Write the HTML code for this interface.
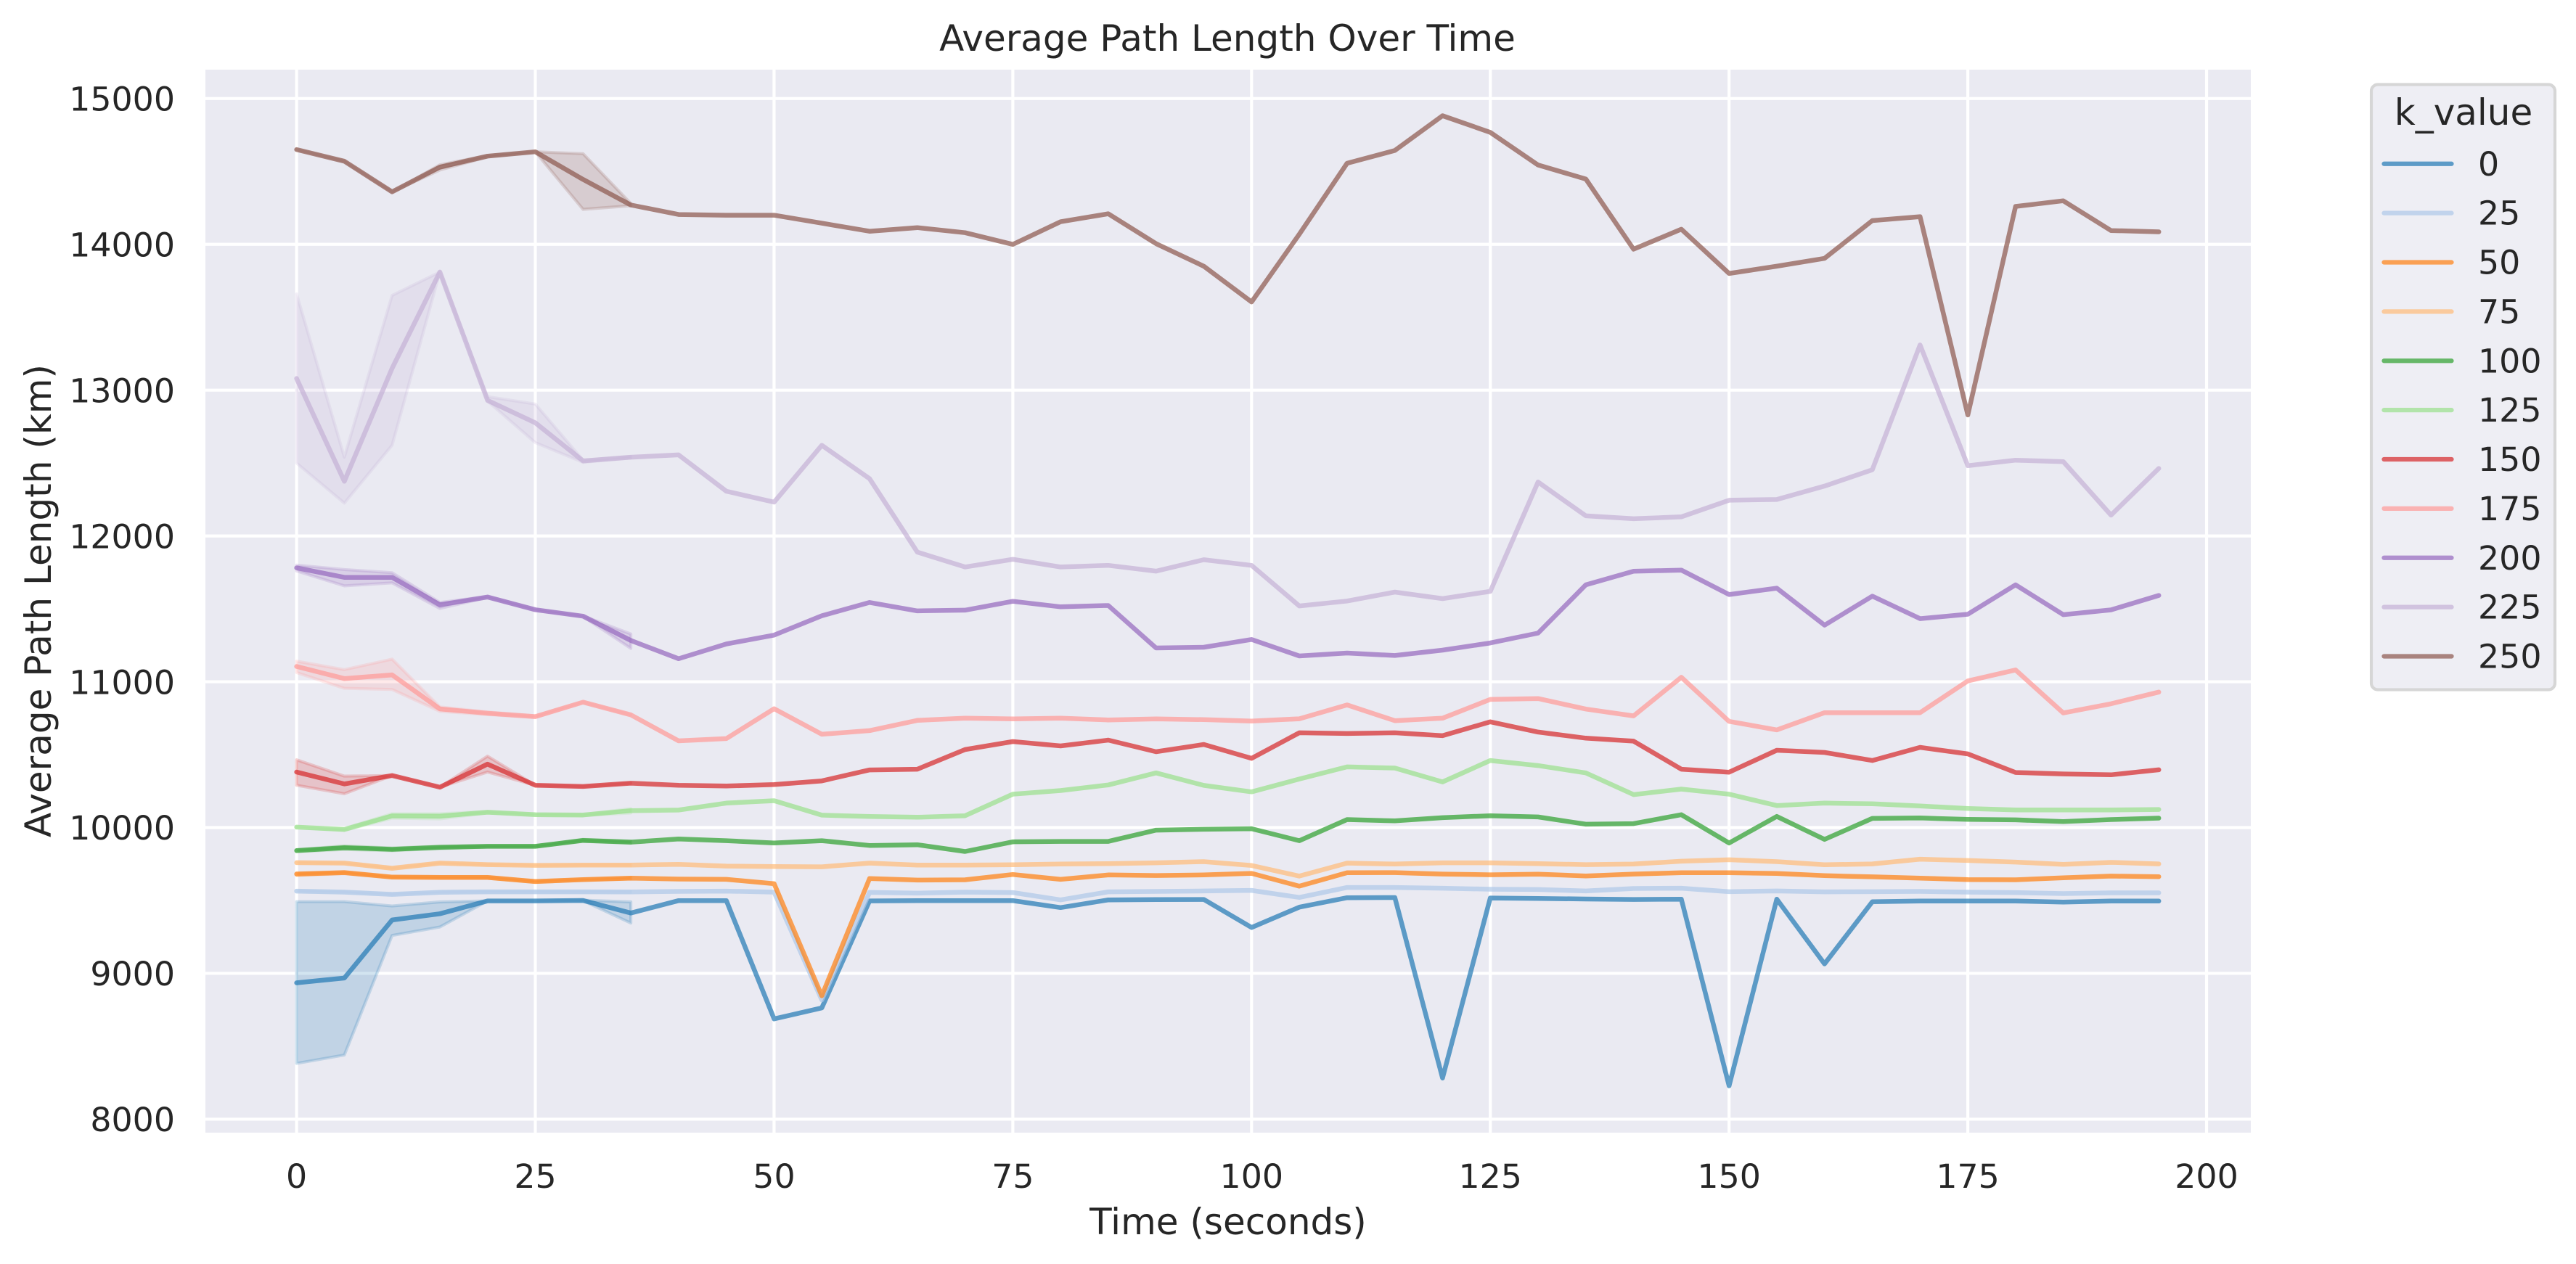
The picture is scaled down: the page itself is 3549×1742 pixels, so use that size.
<!DOCTYPE html>
<html lang="en">
<head>
<meta charset="utf-8">
<title>Average Path Length Over Time</title>
<style>
html,body{margin:0;padding:0;background:#fff}
svg{display:block}
text{font-family:"DejaVu Sans","Liberation Sans",sans-serif;fill:#262626}
</style>
</head>
<body>
<svg id="chart" xmlns="http://www.w3.org/2000/svg" width="3549" height="1742" viewBox="0 0 3549 1742">
  <rect x="0" y="0" width="3549" height="1742" fill="#ffffff"/>
  <rect x="283" y="96" width="2818" height="1465" fill="#eaeaf2"/>
  <g id="grid"></g>
  <g id="bands"></g>
  <g id="lines"></g>
  <g id="xticks"></g>
  <g id="yticks"></g>
  <text x="1691" y="70" font-size="50" text-anchor="middle">Average Path Length Over Time</text>
  <text x="1692" y="1701" font-size="50" text-anchor="middle">Time (seconds)</text>
  <text x="0" y="0" font-size="50" text-anchor="middle" transform="translate(70 828) rotate(-90)">Average Path Length (km)</text>
  <g id="legend">
    <rect x="3267" y="116.5" width="253" height="834" rx="9" ry="9" fill="#eeeef4" stroke="#d6d6d6" stroke-width="4.17"/>
    <text x="3394" y="172" font-size="50" text-anchor="middle">k_value</text>
  </g>
</svg>
<script>
const times = [0,5,10,15,20,25,30,35,40,45,50,55,60,65,70,75,80,85,90,95,100,105,110,115,120,125,130,135,140,145,150,155,160,165,170,175,180,185,190,195];
const xTickValues = [0,25,50,75,100,125,150,175,200];
const yTickValues = [8000,9000,10000,11000,12000,13000,14000,15000];
const kValues = ["0","25","50","75","100","125","150","175","200","225","250"];
const seriesColors = ["#1f77b4","#aec7e8","#ff7f0e","#ffbb78","#2ca02c","#98df8a","#d62728","#ff9896","#9467bd","#c5b0d5","#8c564b"];

const k0 = [8935,8968,9366,9409,9497,9497,9500,9414,9499,9499,8688,8763,9497,9499,9499,9499,9451,9504,9506,9507,9315,9454,9519,9520,8282,9517,9514,9510,9507,9509,8229,9509,9065,9491,9496,9496,9496,9489,9496,9496];
const k25 = [9564,9557,9542,9556,9559,9559,9559,9558,9562,9564,9557,8818,9555,9550,9557,9554,9504,9559,9562,9565,9569,9521,9589,9589,9584,9577,9575,9565,9582,9584,9560,9565,9559,9560,9562,9557,9554,9547,9552,9552];
const k50 = [9681,9691,9660,9658,9658,9630,9643,9653,9647,9645,9615,8846,9650,9640,9642,9678,9645,9675,9671,9675,9686,9598,9690,9691,9681,9676,9680,9668,9681,9690,9690,9685,9670,9662,9653,9643,9642,9655,9667,9663];
const k75 = [9759,9756,9721,9756,9746,9741,9743,9743,9748,9736,9733,9731,9756,9743,9743,9745,9750,9753,9758,9766,9740,9667,9756,9750,9758,9758,9753,9746,9750,9769,9779,9766,9745,9751,9783,9774,9763,9748,9761,9751];
const k100 = [9842,9862,9851,9864,9871,9871,9912,9900,9922,9910,9894,9910,9877,9882,9836,9902,9905,9905,9982,9988,9992,9910,10055,10046,10068,10081,10073,10023,10027,10088,9894,10076,9919,10063,10066,10056,10053,10041,10055,10065];
const k125 = [10003,9987,10080,10078,10105,10088,10086,10116,10120,10168,10184,10085,10076,10071,10081,10229,10254,10292,10375,10289,10245,10333,10416,10408,10313,10460,10425,10375,10226,10264,10229,10151,10168,10163,10148,10131,10121,10121,10121,10124];
const k150 = [10381,10299,10357,10277,10435,10290,10282,10304,10290,10285,10295,10320,10395,10400,10535,10590,10560,10600,10520,10570,10475,10650,10645,10650,10630,10725,10655,10613,10593,10400,10380,10530,10515,10460,10550,10505,10378,10368,10362,10396];
const k175 = [11105,11022,11047,10814,10784,10761,10860,10773,10595,10610,10815,10640,10665,10735,10750,10745,10750,10738,10745,10740,10730,10746,10841,10733,10750,10879,10885,10813,10766,11031,10728,10670,10788,10788,10788,11006,11081,10786,10849,10929];
const k200 = [11781,11716,11716,11528,11581,11494,11450,11283,11158,11259,11320,11453,11544,11486,11491,11552,11514,11523,11232,11237,11290,11177,11197,11180,11217,11266,11334,11665,11758,11766,11598,11642,11388,11587,11433,11463,11665,11460,11493,11592];
const k225 = [13080,12375,13150,13810,12930,12776,12515,12540,12556,12307,12232,12622,12393,11889,11787,11840,11787,11798,11759,11837,11798,11520,11554,11615,11570,11620,12370,12138,12118,12131,12245,12250,12342,12454,13310,12482,12520,12510,12143,12463];
const k250 = [14650,14570,14360,14530,14605,14635,14445,14270,14205,14200,14200,14145,14090,14115,14080,14000,14155,14210,14005,13850,13605,14070,14556,14644,14882,14768,14544,14448,13967,14104,13800,13850,13904,14163,14190,12830,14260,14299,14095,14086];

const low0 = [8382,8440,9260,9318,9497,9497,9498,9345];
const high0 = [9492,9492,9462,9490,9497,9497,9502,9490];
const low25 = [9558,9551,9536,9550,9553,9555,9555,9554];
const high25 = [9570,9563,9548,9562,9565,9563,9563,9562];
const low50 = [9672,9684,9654,9652,9652,9624,9638,9648];
const high50 = [9690,9698,9666,9664,9664,9636,9648,9658];
const low75 = [9754,9751,9714,9750,9741,9737,9739,9739];
const high75 = [9764,9761,9728,9762,9751,9745,9747,9747];
const low100 = [9836,9850,9842,9856,9866,9866,9905,9893];
const high100 = [9848,9874,9860,9872,9876,9876,9919,9907];
const low125 = [10000,9980,10065,10060,10100,10085,10082,10100];
const high125 = [10006,9994,10095,10095,10110,10092,10090,10130];
const low150 = [10290,10232,10357,10277,10381,10290,10282,10304];
const high150 = [10465,10353,10357,10277,10490,10290,10282,10304];
const low175 = [11063,10955,10947,10797,10775,10755,10860,10773];
const high175 = [11141,11083,11155,10827,10793,10767,10860,10773];
const low200 = [11760,11658,11678,11503,11578,11490,11448,11229];
const high200 = [11800,11770,11748,11544,11585,11498,11452,11328];
const low225 = [12500,12225,12623,13810,12925,12640,12505,12535];
const high225 = [13660,12540,13650,13810,12955,12905,12520,12545];
const low250 = [14650,14570,14360,14510,14600,14635,14240,14265];
const high250 = [14650,14570,14360,14545,14610,14635,14622,14280];

const seriesValues = [k0,k25,k50,k75,k100,k125,k150,k175,k200,k225,k250];
const bandLows = [low0,low25,low50,low75,low100,low125,low150,low175,low200,low225,low250];
const bandHighs = [high0,high25,high50,high75,high100,high125,high150,high175,high200,high225,high250];

const NS = 'http://www.w3.org/2000/svg';
const plot = {left:283, right:3101, top:96, bottom:1561};
function xScale(t){ return 408.6 + 13.157 * t; }
function yScale(v){ return 1542.4 - (v - 8000) * 0.20094; }
function make(tag, attrs, parent){
  const el = document.createElementNS(NS, tag);
  for (const key in attrs) el.setAttribute(key, attrs[key]);
  parent.appendChild(el);
  return el;
}

const gridGroup = document.getElementById('grid');
xTickValues.forEach(function(t){
  const el = make('line', {x1:xScale(t), x2:xScale(t), y1:plot.top, y2:plot.bottom, stroke:'#ffffff', 'stroke-width':4.17}, gridGroup);
  
  
});
yTickValues.forEach(function(v){
  const el = make('line', {x1:plot.left, x2:plot.right, y1:yScale(v), y2:yScale(v), stroke:'#ffffff', 'stroke-width':4.17}, gridGroup);
  
  
});

const xTickGroup = document.getElementById('xticks');
xTickValues.forEach(function(t){
  const el = make('text', {x:xScale(t), y:1637, 'font-size':45.83, 'text-anchor':'middle'}, xTickGroup);
  el.textContent = String(t);
  
  
});
const yTickGroup = document.getElementById('yticks');
yTickValues.forEach(function(v){
  const el = make('text', {x:241, y:yScale(v) + 16.7, 'font-size':45.83, 'text-anchor':'end'}, yTickGroup);
  el.textContent = String(v);
  
  
});

const bandGroup = document.getElementById('bands');
const lineGroup = document.getElementById('lines');
kValues.forEach(function(k, i){
  const lows = bandLows[i];
  const highs = bandHighs[i];
  const upper = highs.map(function(hi, j){ return xScale(times[j]).toFixed(1) + ',' + yScale(hi).toFixed(1); });
  const lower = lows.map(function(lo, j){ return xScale(times[j]).toFixed(1) + ',' + yScale(lo).toFixed(1); });
  const band = make('polygon', {points:upper.concat(lower.reverse()).join(' '), fill:seriesColors[i], 'fill-opacity':0.2, stroke:seriesColors[i], 'stroke-opacity':0.2, 'stroke-width':4.17, 'stroke-linejoin':'round'}, bandGroup);
  
  
});
kValues.forEach(function(k, i){
  const values = seriesValues[i];
  const pts = times.map(function(t, j){ return xScale(t).toFixed(1) + ',' + yScale(values[j]).toFixed(1); }).join(' ');
  const line = make('polyline', {points:pts, fill:'none', stroke:seriesColors[i], 'stroke-opacity':0.7, 'stroke-width':6.5, 'stroke-linejoin':'round', 'stroke-linecap':'round'}, lineGroup);
  
  
});

const legendGroup = document.getElementById('legend');
kValues.forEach(function(k, i){
  const rowY = 225.8 + 67.87 * i;
  const handle = make('line', {x1:3284.5, x2:3377.5, y1:rowY, y2:rowY, stroke:seriesColors[i], 'stroke-opacity':0.7, 'stroke-width':6.25, 'stroke-linecap':'round'}, legendGroup);
  
  
  const label = make('text', {x:3414, y:rowY + 16, 'font-size':45.83}, legendGroup);
  label.textContent = k;
  
  
});
</script>
</body>
</html>
